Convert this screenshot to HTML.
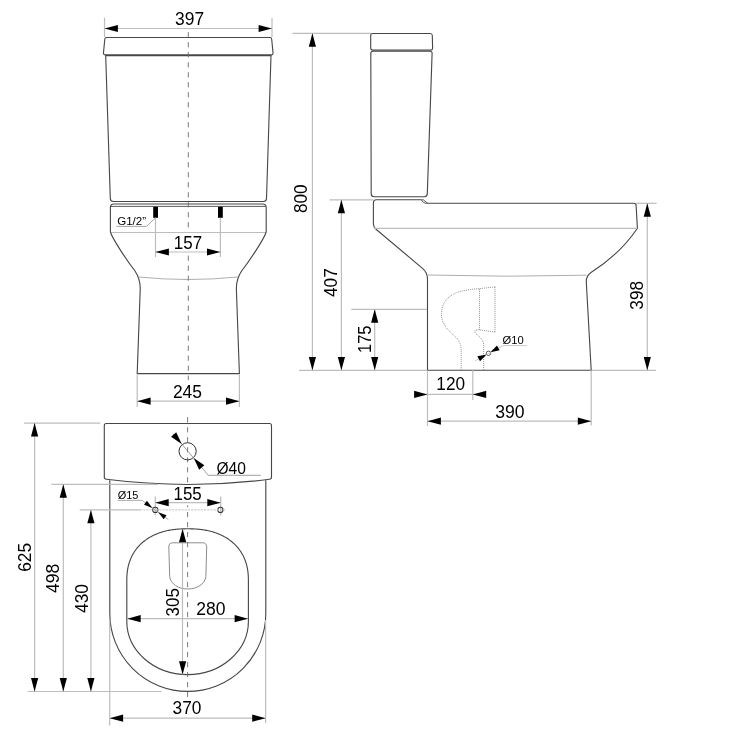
<!DOCTYPE html>
<html><head><meta charset="utf-8"><style>
html,body{margin:0;padding:0;background:#fff;width:750px;height:750px;overflow:hidden}
svg{display:block;will-change:transform}
text{font-family:"Liberation Sans", sans-serif}
</style></head><body>
<svg width="750" height="750" viewBox="0 0 750 750">
<rect width="750" height="750" fill="#fff"/>
<line x1="104.5" y1="17.7" x2="104.5" y2="37" stroke="#bdbdbd" stroke-width="1.2" />
<line x1="272" y1="17.9" x2="272" y2="37" stroke="#bdbdbd" stroke-width="1.2" />
<line x1="104.5" y1="28.5" x2="272" y2="28.5" stroke="#bdbdbd" stroke-width="1.2" />
<path d="M104.5 28.5 L117.9 24.9 L117.9 32.1Z" fill="#000"/>
<path d="M272 28.5 L258.6 24.9 L258.6 32.1Z" fill="#000"/>
<text transform="matrix(0.174051 0 0 0.179577 175.104 25.245)" font-size="100" fill="#000">397</text>
<path d="M106.5 37.5 L270 37.5 Q271.6 37.5 271.7 39.2 L273 52.6 Q273.2 54.9 271 54.9 L105.5 54.9 Q103.3 54.9 103.5 52.6 L104.8 39.2 Q104.9 37.5 106.5 37.5Z" stroke="#474747" stroke-width="1.12" fill="none" />
<path d="M105.7 55.6 L271 55.6 L266.5 198.5 Q266.4 201.5 263.5 201.5 L113.3 201.5 Q110.4 201.5 110.3 198.5 Z" stroke="#474747" stroke-width="1.12" fill="none" />
<path d="M110.4 232 L110.4 207.5 Q110.4 204 114 204 L262.6 204 Q266.2 204 266.2 207.5 L266.2 232" stroke="#474747" stroke-width="1.12" fill="none" />
<line x1="110.8" y1="206.4" x2="265.8" y2="206.4" stroke="#474747" stroke-width="0.9" />
<line x1="110.4" y1="232.5" x2="266.2" y2="232.5" stroke="#bdbdbd" stroke-width="1.2" />
<path d="M110.4 232 C113 240 128 262 135 271 C139 277 140.5 283 140.2 290 L137.2 373.6 L239.4 373.6 L236.4 290 C236.1 283 237.6 277 241.6 271 C248.6 262 263.6 240 266.2 232" stroke="#474747" stroke-width="1.12" fill="none" />
<path d="M138.7 277 Q188.3 282 237.9 277" stroke="#a5a5a5" stroke-width="0.9" fill="none" />
<line x1="188.3" y1="32.2" x2="188.3" y2="228" stroke="#6a6a6a" stroke-width="0.9" stroke-dasharray="5.2 4.8"/>
<line x1="188.3" y1="255.6" x2="188.3" y2="380" stroke="#6a6a6a" stroke-width="0.9" stroke-dasharray="5.2 4.8"/>
<rect x="153.2" y="206.8" width="4.8" height="11" fill="#000"/>
<rect x="218.0" y="206.8" width="4.8" height="11" fill="#000"/>
<line x1="155.5" y1="217.8" x2="155.5" y2="257" stroke="#bdbdbd" stroke-width="1.2" />
<line x1="220.4" y1="217.8" x2="220.4" y2="257" stroke="#bdbdbd" stroke-width="1.2" />
<line x1="155.5" y1="252" x2="220.4" y2="252" stroke="#bdbdbd" stroke-width="1.2" />
<path d="M155.5 252 L168.9 248.4 L168.9 255.6Z" fill="#000"/>
<path d="M220.4 252 L207.0 248.4 L207.0 255.6Z" fill="#000"/>
<text transform="matrix(0.169481 0 0 0.179577 173.844 248.856)" font-size="100" fill="#000">157</text>
<path d="M116.5 226.4 L146.6 226.4 L155.3 218" stroke="#9a9a9a" stroke-width="0.9" fill="none" />
<text transform="matrix(0.115353 0 0 0.108108 117.223 224.892)" font-size="100" fill="#000">G1/2&#8221;</text>
<line x1="137.2" y1="375" x2="137.2" y2="407" stroke="#bdbdbd" stroke-width="1.2" />
<line x1="239.4" y1="375" x2="239.4" y2="407" stroke="#bdbdbd" stroke-width="1.2" />
<line x1="137.2" y1="401.2" x2="239.4" y2="401.2" stroke="#bdbdbd" stroke-width="1.2" />
<path d="M137.2 401.2 L150.6 397.59999999999997 L150.6 404.8Z" fill="#000"/>
<path d="M239.4 401.2 L226.0 397.59999999999997 L226.0 404.8Z" fill="#000"/>
<text transform="matrix(0.174051 0 0 0.179577 172.930 397.795)" font-size="100" fill="#000">245</text>
<line x1="292.5" y1="33.3" x2="371" y2="33.3" stroke="#bdbdbd" stroke-width="1.2" />
<line x1="299" y1="370.3" x2="427.5" y2="370.3" stroke="#bdbdbd" stroke-width="1.2" />
<line x1="591.2" y1="370.3" x2="656" y2="370.3" stroke="#bdbdbd" stroke-width="1.2" />
<line x1="312.4" y1="33.3" x2="312.4" y2="370.3" stroke="#bdbdbd" stroke-width="1.2" />
<path d="M312.4 33.3 L308.79999999999995 46.699999999999996 L316.0 46.699999999999996Z" fill="#000"/>
<path d="M312.4 370.3 L308.79999999999995 356.90000000000003 L316.0 356.90000000000003Z" fill="#000"/>
<text transform="matrix(0 -0.172327 0.179577 0 307.495 213.089)" font-size="100" fill="#000">800</text>
<path d="M372.7 33.5 L430.2 33.5 Q432.2 33.5 432.3 35.5 L432.6 48 Q432.6 50.1 430.5 50.1 L372.7 50.1 Q370.7 50.1 370.7 48.1 L370.7 35.5 Q370.7 33.5 372.7 33.5Z" stroke="#474747" stroke-width="1.12" fill="none" />
<path d="M372.7 51.3 L430.2 51.3 Q432.2 51.4 432.1 53.4 L427.3 193.8 Q427.2 196.8 424.2 196.8 L374.2 196.8 Q371.2 196.8 371.2 193.8 L370.8 53.4 Q370.8 51.3 372.7 51.3Z" stroke="#474747" stroke-width="1.12" fill="none" />
<line x1="329.6" y1="199.8" x2="373.4" y2="199.8" stroke="#bdbdbd" stroke-width="1.2" />
<path d="M421.3 199.8 L376.4 199.8 Q373.4 199.8 373.4 202.8 L373.4 224 Q373.4 227 376 229.2 L422.8 268.6 Q427.5 272.6 427.5 279 L427.5 370.3 L591.2 370.3 L586.3 282 Q586 276 591 272.5 Q620 254 637.4 228.2 L636.1 205.5 Q636 203.3 633.8 203.3 L427.8 203.3" stroke="#474747" stroke-width="1.12" fill="none" />
<path d="M421.3 199.8 L423.3 199.8 L427.8 203.3 L425.8 203.3 Q423.3 203.3 421.3 199.8Z" stroke="#474747" stroke-width="0.9" fill="none" />
<line x1="374" y1="228.4" x2="637.2" y2="228.4" stroke="#bdbdbd" stroke-width="1.2" />
<path d="M427.5 275 Q507 277.3 586.5 275.2" stroke="#a5a5a5" stroke-width="0.9" fill="none" />
<line x1="341.4" y1="199.8" x2="341.4" y2="370.3" stroke="#bdbdbd" stroke-width="1.2" />
<path d="M341.4 199.8 L337.79999999999995 213.20000000000002 L345.0 213.20000000000002Z" fill="#000"/>
<path d="M341.4 370.3 L337.79999999999995 356.90000000000003 L345.0 356.90000000000003Z" fill="#000"/>
<text transform="matrix(0 -0.172500 0.179577 0 336.845 297.045)" font-size="100" fill="#000">407</text>
<line x1="636.1" y1="203.3" x2="656.7" y2="203.3" stroke="#bdbdbd" stroke-width="1.2" />
<line x1="647.3" y1="203.3" x2="647.3" y2="370.3" stroke="#bdbdbd" stroke-width="1.2" />
<path d="M647.3 203.3 L643.6999999999999 216.70000000000002 L650.9 216.70000000000002Z" fill="#000"/>
<path d="M647.3 370.3 L643.6999999999999 356.90000000000003 L650.9 356.90000000000003Z" fill="#000"/>
<text transform="matrix(0 -0.172152 0.179577 0 642.745 309.689)" font-size="100" fill="#000">398</text>
<line x1="351.3" y1="309.3" x2="427" y2="309.3" stroke="#bdbdbd" stroke-width="1.2" />
<line x1="374.7" y1="309.3" x2="374.7" y2="370.3" stroke="#bdbdbd" stroke-width="1.2" />
<path d="M374.7 309.3 L371.09999999999997 322.7 L378.3 322.7Z" fill="#000"/>
<path d="M374.7 370.3 L371.09999999999997 356.90000000000003 L378.3 356.90000000000003Z" fill="#000"/>
<text transform="matrix(0 -0.165161 0.179577 0 371.156 353.021)" font-size="100" fill="#000">175</text>
<line x1="427.5" y1="370.3" x2="427.5" y2="426" stroke="#bdbdbd" stroke-width="1.2" />
<line x1="472.8" y1="370.3" x2="472.8" y2="400" stroke="#bdbdbd" stroke-width="1.2" />
<line x1="591.2" y1="370.3" x2="591.2" y2="425.5" stroke="#bdbdbd" stroke-width="1.2" />
<line x1="414" y1="394.4" x2="486" y2="394.4" stroke="#bdbdbd" stroke-width="1.2" />
<path d="M427.5 394.4 L414.1 390.79999999999995 L414.1 398.0Z" fill="#000"/>
<path d="M472.8 394.4 L486.2 390.79999999999995 L486.2 398.0Z" fill="#000"/>
<text transform="matrix(0.172258 0 0 0.179577 436.322 390.495)" font-size="100" fill="#000">120</text>
<line x1="427.5" y1="421.2" x2="591.2" y2="421.2" stroke="#bdbdbd" stroke-width="1.2" />
<path d="M427.5 421.2 L440.9 417.59999999999997 L440.9 424.8Z" fill="#000"/>
<path d="M591.2 421.2 L577.8000000000001 417.59999999999997 L577.8000000000001 424.8Z" fill="#000"/>
<text transform="matrix(0.176101 0 0 0.179577 495.196 417.695)" font-size="100" fill="#000">390</text>
<path d="M495 286.9 L479.3 288.7 C456 290 441.5 296 441.5 314.7 C441.5 325 450 332 456 337.5 Q460.8 342 461.2 350 L461.2 370" stroke="#777" stroke-width="0.8" fill="none" stroke-dasharray="1 1"/>
<path d="M495 332 L479.4 329.8 L475.6 330 Q473.8 331.5 476 334 C481 337.5 483.7 340.5 483.7 346 L483.7 370" stroke="#777" stroke-width="0.8" fill="none" stroke-dasharray="1 1"/>
<line x1="479.5" y1="288.8" x2="479.5" y2="329.8" stroke="#777" stroke-width="0.8" stroke-dasharray="1 1"/>
<line x1="495" y1="286.9" x2="495" y2="332" stroke="#777" stroke-width="0.8" stroke-dasharray="1 1"/>
<circle cx="488.5" cy="353.3" r="2.2" fill="none" stroke="#333" stroke-width="0.8"/>
<path d="M475.2 360.8 L503.2 345.6 L526.9 345.6" stroke="#bdbdbd" stroke-width="0.8" fill="none" />
<path d="M486.60 354.40 L480.03 361.16 L477.35 356.23Z" fill="#000"/>
<path d="M490.40 352.20 L496.97 345.44 L499.65 350.37Z" fill="#000"/>
<text transform="matrix(0.112155 0 0 0.113514 502.451 344.373)" font-size="100" fill="#000">&#216;10</text>
<path d="M106.3 423.5 L269.5 423.5 Q271.5 423.5 271.5 425.5 L271.5 477 Q271.5 479.1 269.4 479.3 Q188 489.6 106.4 479.3 Q104.3 479.1 104.3 477 L104.3 425.5 Q104.3 423.5 106.3 423.5Z" stroke="#474747" stroke-width="1.12" fill="none" />
<path d="M109.8 480.2 L109.8 613.4 A78 78 0 0 0 265.8 613.4 L265.8 480.2" stroke="#474747" stroke-width="1.12" fill="none" />
<path d="M126.8 621.3 L126.8 581 L126.80 581.00 L126.81 579.46 L126.83 578.18 L126.87 576.99 L126.93 575.85 L127.00 574.75 L127.09 573.67 L127.19 572.63 L127.31 571.60 L127.45 570.60 L127.60 569.61 L127.77 568.64 L127.96 567.68 L128.16 566.74 L128.37 565.80 L128.61 564.88 L128.85 563.98 L129.12 563.08 L129.40 562.20 L129.69 561.33 L130.00 560.46 L130.33 559.61 L130.67 558.77 L131.03 557.94 L131.40 557.13 L131.78 556.32 L132.19 555.52 L132.61 554.73 L133.04 553.95 L133.49 553.19 L133.95 552.43 L134.43 551.68 L134.92 550.95 L135.43 550.22 L135.95 549.51 L136.48 548.81 L137.03 548.12 L137.60 547.43 L138.18 546.76 L138.77 546.10 L139.38 545.46 L140.00 544.82 L140.63 544.19 L141.28 543.58 L141.94 542.97 L142.62 542.38 L143.31 541.80 L144.01 541.23 L144.73 540.68 L145.46 540.13 L146.20 539.60 L146.95 539.08 L147.72 538.57 L148.50 538.07 L149.30 537.59 L150.10 537.11 L150.92 536.65 L151.75 536.21 L152.60 535.77 L153.45 535.35 L154.32 534.94 L155.20 534.54 L156.10 534.16 L157.00 533.78 L157.92 533.43 L158.85 533.08 L159.79 532.75 L160.75 532.43 L161.71 532.12 L162.69 531.83 L163.68 531.55 L164.69 531.28 L165.70 531.03 L166.73 530.79 L167.77 530.56 L168.83 530.35 L169.90 530.15 L170.98 529.97 L172.08 529.79 L173.20 529.63 L174.33 529.49 L175.49 529.36 L176.66 529.24 L177.85 529.14 L179.07 529.05 L180.32 528.97 L181.60 528.91 L182.92 528.86 L184.31 528.83 L185.80 528.81 L187.60 528.80 L189.40 528.81 L190.89 528.83 L192.28 528.86 L193.60 528.91 L194.88 528.97 L196.13 529.05 L197.35 529.14 L198.54 529.24 L199.71 529.36 L200.87 529.49 L202.00 529.63 L203.12 529.79 L204.22 529.97 L205.30 530.15 L206.37 530.35 L207.43 530.56 L208.47 530.79 L209.50 531.03 L210.51 531.28 L211.52 531.55 L212.51 531.83 L213.49 532.12 L214.45 532.43 L215.41 532.75 L216.35 533.08 L217.28 533.43 L218.20 533.78 L219.10 534.16 L220.00 534.54 L220.88 534.94 L221.75 535.35 L222.60 535.77 L223.45 536.21 L224.28 536.65 L225.10 537.11 L225.90 537.59 L226.70 538.07 L227.48 538.57 L228.25 539.08 L229.00 539.60 L229.74 540.13 L230.47 540.68 L231.19 541.23 L231.89 541.80 L232.58 542.38 L233.26 542.97 L233.92 543.58 L234.57 544.19 L235.20 544.82 L235.82 545.46 L236.43 546.10 L237.02 546.76 L237.60 547.43 L238.17 548.12 L238.72 548.81 L239.25 549.51 L239.77 550.22 L240.28 550.95 L240.77 551.68 L241.25 552.43 L241.71 553.19 L242.16 553.95 L242.59 554.73 L243.01 555.52 L243.42 556.32 L243.80 557.13 L244.17 557.94 L244.53 558.77 L244.87 559.61 L245.20 560.46 L245.51 561.33 L245.80 562.20 L246.08 563.08 L246.35 563.98 L246.59 564.88 L246.83 565.80 L247.04 566.74 L247.24 567.68 L247.43 568.64 L247.60 569.61 L247.75 570.60 L247.89 571.60 L248.01 572.63 L248.11 573.67 L248.20 574.75 L248.27 575.85 L248.33 576.99 L248.37 578.18 L248.39 579.46 L248.40 581.00 L248.4 621.3 A60.8 53.3 0 0 1 126.8 621.3Z" stroke="#474747" stroke-width="1.12" fill="none" />
<path d="M172.8 542.8 L202.6 542.8 Q206.7 542.8 206.7 547 L205.9 576.5 C205 584 197 589 187.8 589 C178.5 589 170.5 584 169.7 576.5 L168.8 547 Q168.8 542.8 172.8 542.8Z" stroke="#777" stroke-width="0.85" fill="none" />
<line x1="187.6" y1="417.2" x2="187.6" y2="484" stroke="#6a6a6a" stroke-width="0.9" stroke-dasharray="5.2 4.8"/>
<line x1="187.6" y1="505.3" x2="187.6" y2="697" stroke="#6a6a6a" stroke-width="0.9" stroke-dasharray="5.2 4.8" stroke-dashoffset="3.3"/>
<circle cx="187.6" cy="451.3" r="8.6" fill="none" stroke="#333" stroke-width="1"/>
<path d="M173 433.8 L208.3 475.3 L260.8 475.3" stroke="#888" stroke-width="0.8" fill="none" />
<path d="M181.70 444.00 L171.05 436.80 L176.21 432.37Z" fill="#000"/>
<path d="M193.70 458.00 L204.35 465.20 L199.19 469.63Z" fill="#000"/>
<text transform="matrix(0.155801 0 0 0.170270 216.477 473.559)" font-size="100" fill="#000">&#216;40</text>
<line x1="155.3" y1="496.4" x2="155.3" y2="515.6" stroke="#bdbdbd" stroke-width="1.2" />
<line x1="220.7" y1="496.4" x2="220.7" y2="515.6" stroke="#bdbdbd" stroke-width="1.2" />
<line x1="155.3" y1="502.7" x2="220.7" y2="502.7" stroke="#bdbdbd" stroke-width="1.2" />
<path d="M155.3 502.7 L168.70000000000002 499.09999999999997 L168.70000000000002 506.3Z" fill="#000"/>
<path d="M220.7 502.7 L207.29999999999998 499.09999999999997 L207.29999999999998 506.3Z" fill="#000"/>
<text transform="matrix(0.169032 0 0 0.179577 173.548 499.606)" font-size="100" fill="#000">155</text>
<circle cx="155.3" cy="509.9" r="2.6" fill="none" stroke="#333" stroke-width="1.05"/>
<circle cx="220.4" cy="509.9" r="2.6" fill="none" stroke="#333" stroke-width="1.05"/>
<line x1="79.7" y1="509.9" x2="140" y2="509.9" stroke="#bdbdbd" stroke-width="1.2" />
<line x1="140" y1="509.9" x2="226" y2="509.9" stroke="#bdbdbd" stroke-width="1.0" stroke-dasharray="2 1.2"/>
<path d="M117.6 500.4 L142.2 500.4 L168.5 519.8" stroke="#999" stroke-width="0.8" fill="none" />
<path d="M152.40 507.90 L144.05 504.73 L146.90 500.87Z" fill="#000"/>
<path d="M158.20 512.20 L166.55 515.37 L163.70 519.23Z" fill="#000"/>
<text transform="matrix(0.109392 0 0 0.109459 117.662 499.181)" font-size="100" fill="#000">&#216;15</text>
<line x1="24.1" y1="423.1" x2="100.3" y2="423.1" stroke="#bdbdbd" stroke-width="1.2" />
<line x1="27.7" y1="691.5" x2="161.6" y2="691.5" stroke="#bdbdbd" stroke-width="1.2" />
<line x1="34.6" y1="423.1" x2="34.6" y2="691.5" stroke="#bdbdbd" stroke-width="1.2" />
<path d="M34.6 423.1 L31.0 436.5 L38.2 436.5Z" fill="#000"/>
<path d="M34.6 691.5 L31.0 678.1 L38.2 678.1Z" fill="#000"/>
<text transform="matrix(0 -0.173418 0.179577 0 30.995 571.867)" font-size="100" fill="#000">625</text>
<line x1="51.4" y1="484.3" x2="158" y2="484.3" stroke="#bdbdbd" stroke-width="1.2" />
<line x1="63.3" y1="484.3" x2="63.3" y2="691.5" stroke="#bdbdbd" stroke-width="1.2" />
<path d="M63.3 484.3 L59.699999999999996 497.7 L66.89999999999999 497.7Z" fill="#000"/>
<path d="M63.3 691.5 L59.699999999999996 678.1 L66.89999999999999 678.1Z" fill="#000"/>
<text transform="matrix(0 -0.175625 0.179577 0 58.745 593.051)" font-size="100" fill="#000">498</text>
<line x1="90.9" y1="509.9" x2="90.9" y2="691.5" stroke="#bdbdbd" stroke-width="1.2" />
<path d="M90.9 509.9 L87.30000000000001 523.3 L94.5 523.3Z" fill="#000"/>
<path d="M90.9 691.5 L87.30000000000001 678.1 L94.5 678.1Z" fill="#000"/>
<text transform="matrix(0 -0.174534 0.179577 0 87.845 613.049)" font-size="100" fill="#000">430</text>
<line x1="109.7" y1="620" x2="109.7" y2="725.5" stroke="#bdbdbd" stroke-width="1.2" />
<line x1="265.6" y1="620" x2="265.6" y2="723" stroke="#bdbdbd" stroke-width="1.2" />
<line x1="109.7" y1="718.2" x2="265.6" y2="718.2" stroke="#bdbdbd" stroke-width="1.2" />
<path d="M109.7 718.2 L123.10000000000001 714.6 L123.10000000000001 721.8000000000001Z" fill="#000"/>
<path d="M265.6 718.2 L252.20000000000002 714.6 L252.20000000000002 721.8000000000001Z" fill="#000"/>
<text transform="matrix(0.172956 0 0 0.179577 172.608 714.345)" font-size="100" fill="#000">370</text>
<line x1="182.5" y1="528.8" x2="182.5" y2="674.6" stroke="#bdbdbd" stroke-width="1.2" />
<path d="M182.6 528.8 L179.0 542.1999999999999 L186.2 542.1999999999999Z" fill="#000"/>
<path d="M182.6 674.6 L179.0 661.2 L186.2 661.2Z" fill="#000"/>
<text transform="matrix(0 -0.169182 0.179577 0 178.995 616.377)" font-size="100" fill="#000">305</text>
<line x1="127.3" y1="618.7" x2="248" y2="618.7" stroke="#bdbdbd" stroke-width="1.2" />
<path d="M127.3 618.7 L140.7 615.1 L140.7 622.3000000000001Z" fill="#000"/>
<path d="M248 618.7 L234.6 615.1 L234.6 622.3000000000001Z" fill="#000"/>
<text transform="matrix(0.175316 0 0 0.179577 196.323 614.795)" font-size="100" fill="#000">280</text>
</svg></body></html>
